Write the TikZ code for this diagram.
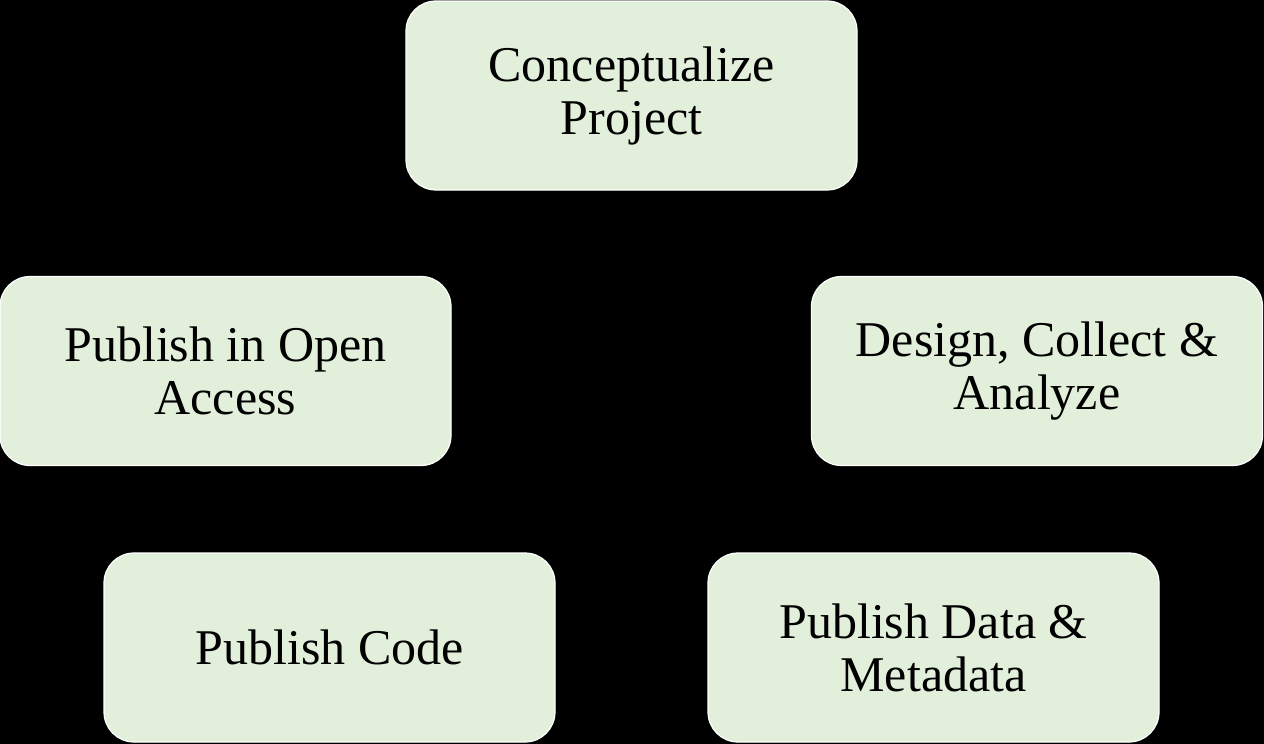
\documentclass[tikz,border=0pt]{standalone}
\usepackage{fontspec}
\setmainfont{Liberation Serif}
\definecolor{boxfill}{HTML}{E2EFDA}
\begin{document}
\begin{tikzpicture}[x=1pt,y=-1pt,
  stage/.style={draw=white, line width=1.2pt, fill=boxfill, rounded corners=30pt,
    minimum width=451pt, minimum height=189pt, align=center, text=black,
    inner sep=0pt, font=\fontsize{50}{53}\selectfont}]
  % black canvas
  \fill[black] (0,0) rectangle (1264,744);
  \useasboundingbox (0,0) rectangle (1264,744);
  \node[stage] (concept) at (631.5,95.5) {Conceptualize\\Project};
  \node[stage] (openaccess) at (225.5,371) {Publish in Open\\Access};
  \node[stage] (design) at (1037,371) {Design, Collect \&\\Analyze};
  \node[stage] (code) at (329.5,647.5) {Publish Code};
  \node[stage] (data) at (933.5,647.5) {Publish Data \&\\Metadata};
\end{tikzpicture}
\end{document}
